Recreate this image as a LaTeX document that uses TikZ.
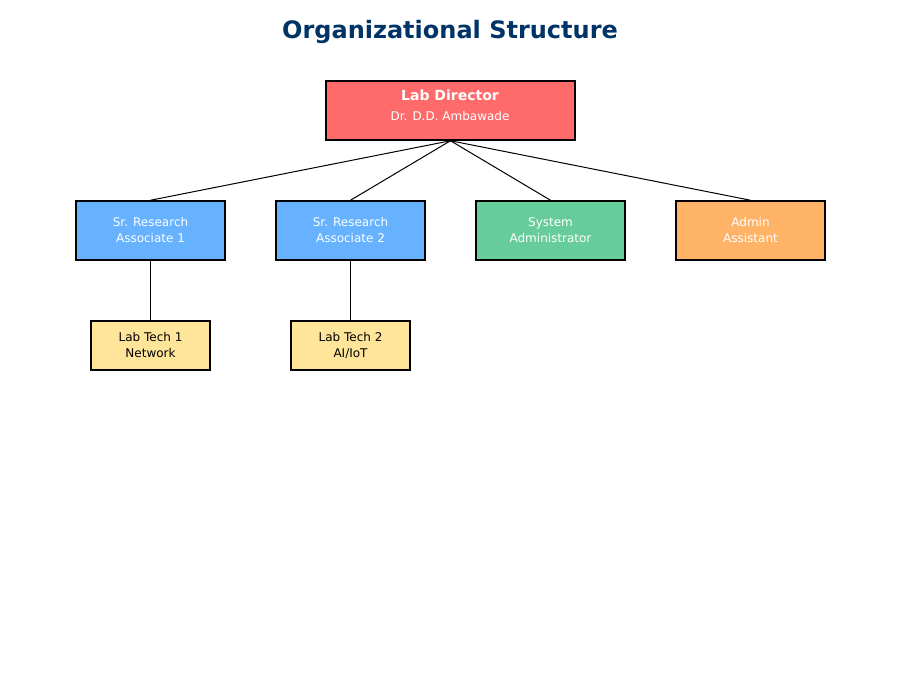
\documentclass[tikz,border=0pt]{standalone}
\usepackage{fontspec}
\setmainfont{DejaVu Sans}
\definecolor{titleblue}{HTML}{003366}
\definecolor{dirred}{HTML}{FF6B6B}
\definecolor{srablue}{HTML}{66B2FF}
\definecolor{sysgreen}{HTML}{66CC99}
\definecolor{admorange}{HTML}{FFB366}
\definecolor{techyellow}{HTML}{FFE599}
\begin{document}
\begin{tikzpicture}[x=1pt,y=-1pt,
  box/.style={draw=black,line width=1.5pt,rectangle,inner sep=0pt,align=center,font=\fontsize{12}{16}\selectfont},
  midbox/.style={box,minimum width=149pt,minimum height=59pt,text=white},
  techbox/.style={box,minimum width=119pt,minimum height=49pt,text=black},
  link/.style={draw=black,line width=1pt},
  vlink/.style={draw=black,line width=1.8pt}]
\useasboundingbox (0,0) rectangle (900,700);
\node[font=\fontsize{24}{26}\bfseries\selectfont,text=titleblue] (title) at (450,32) {Organizational Structure};
\node[box,minimum width=249pt,minimum height=59pt,fill=dirred,text=white] (dir) at (450.5,110.5) {};
\node[text=white,font=\fontsize{14}{16}\bfseries\selectfont] (dirname) at (450,95.5) {Lab Director};
\node[text=white,font=\fontsize{12}{14}\selectfont] (dirsub) at (450,116) {Dr. D.D. Ambawade};
\node[midbox,fill=srablue] (sra1) at (150.5,230.5) {Sr. Research\\Associate 1};
\node[midbox,fill=srablue] (sra2) at (350.5,230.5) {Sr. Research\\Associate 2};
\node[midbox,fill=sysgreen] (sys) at (550.5,230.5) {System\\Administrator};
\node[midbox,fill=admorange] (adm) at (750.5,230.5) {Admin\\Assistant};
\node[techbox,fill=techyellow] (lt1) at (150.5,345.5) {Lab Tech 1\\Network};
\node[techbox,fill=techyellow] (lt2) at (350.5,345.5) {Lab Tech 2\\AI/IoT};
\draw[link] (dir.south) -- (sra1.north);
\draw[link] (dir.south) -- (sra2.north);
\draw[link] (dir.south) -- (sys.north);
\draw[link] (dir.south) -- (adm.north);
\draw[vlink] (sra1.south) -- (lt1.north);
\draw[vlink] (sra2.south) -- (lt2.north);
\end{tikzpicture}
\end{document}
